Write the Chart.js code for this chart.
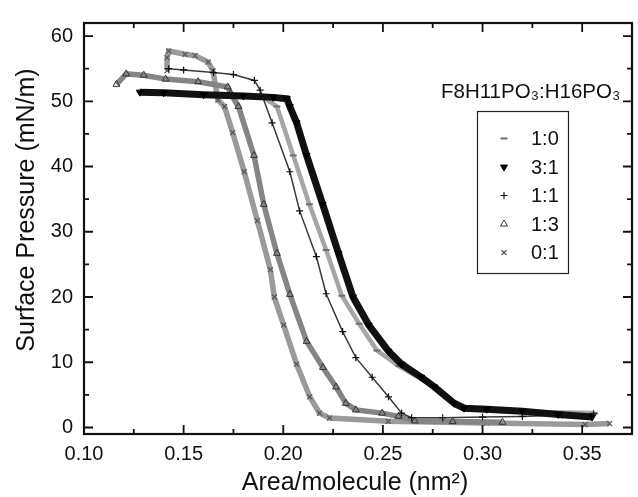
<!DOCTYPE html>
<html><head><meta charset="utf-8">
<script src="https://cdn.jsdelivr.net/npm/chart.js@4.4.1/dist/chart.umd.min.js"></script>
<style>html,body{margin:0;padding:0;background:#fff;overflow:hidden}canvas{display:block}</style>
</head><body>
<canvas id="c" width="638" height="497"></canvas>
<script>
// ---------- data ----------
const legendTitle = 'F8H11PO\u2083:H16PO\u2083';
const seriesLabels = ['1:0', '3:1', '1:1', '1:3', '0:1'];
const xTickValues = [0.10, 0.125, 0.15, 0.175, 0.20, 0.225, 0.25, 0.275, 0.30, 0.325, 0.35];
const yTickValues = [0, 5, 10, 15, 20, 25, 30, 35, 40, 45, 50, 55, 60];
const xTitle = 'Area/molecule (nm\u00B2)';
const yTitle = 'Surface Pressure (mN/m)';

const area_1_0 = [0.190, 0.1968, 0.2050, 0.2131, 0.2215, 0.2294, 0.2381, 0.2470, 0.2580, 0.2700, 0.2850, 0.2950, 0.3200, 0.3560];
const pi_1_0   = [50.6, 49.2, 41.7, 34.2, 27.2, 20.2, 15.9, 11.8, 9.4, 7.3, 4.0, 2.7, 2.4, 2.2];

const area_3_1 = [0.128, 0.140, 0.160, 0.180, 0.195, 0.2018, 0.2033, 0.2067, 0.2117, 0.2198, 0.2277, 0.2350, 0.2429, 0.2528, 0.2594, 0.2693, 0.2759, 0.2858, 0.2907, 0.3020, 0.3200, 0.3380, 0.3550];
const pi_3_1   = [51.4, 51.3, 51.0, 50.8, 50.6, 50.4, 49.2, 46.7, 41.7, 34.2, 26.7, 20.0, 15.7, 11.7, 9.7, 7.7, 6.2, 3.7, 2.95, 2.8, 2.5, 2.0, 1.6];

const area_1_1 = [0.1425, 0.150, 0.165, 0.175, 0.1855, 0.1884, 0.1944, 0.2033, 0.2082, 0.2166, 0.2215, 0.2298, 0.2364, 0.2446, 0.2528, 0.2594, 0.2644, 0.280, 0.300, 0.320, 0.340, 0.3558];
const pi_1_1   = [55.0, 54.8, 54.4, 54.1, 53.2, 51.7, 46.7, 39.2, 33.2, 26.2, 20.5, 14.7, 10.7, 7.7, 4.7, 2.2, 1.5, 1.5, 1.6, 1.7, 1.9, 2.1];

const area_1_3 = [0.1163, 0.1212, 0.130, 0.141, 0.1573, 0.1721, 0.1736, 0.1775, 0.1853, 0.1902, 0.1968, 0.2033, 0.2117, 0.2199, 0.2265, 0.2314, 0.2364, 0.2496, 0.2578, 0.2660, 0.2850, 0.3100];
const pi_1_3   = [52.6, 54.2, 54.0, 53.4, 53.0, 52.2, 51.2, 49.2, 41.7, 34.2, 26.7, 20.4, 13.2, 9.2, 6.2, 3.7, 2.7, 2.2, 1.7, 1.0, 0.9, 0.8];

const area_0_1 = [0.1417, 0.1417, 0.1425, 0.1507, 0.1557, 0.1623, 0.1647, 0.1672, 0.1705, 0.1746, 0.1804, 0.1870, 0.1935, 0.1955, 0.2002, 0.2067, 0.2133, 0.2182, 0.2232, 0.2527, 0.3021, 0.3515, 0.3638];
const pi_0_1   = [54.7, 56.7, 57.7, 57.2, 57.0, 56.0, 54.7, 50.2, 49.2, 45.2, 39.2, 31.7, 24.2, 20.0, 15.7, 9.7, 4.7, 2.2, 1.45, 0.95, 0.7, 0.45, 0.6];

// ---------- build ----------
const pts = (xs, ys) => xs.map((x, i) => ({x: x, y: ys[i]}));
const FONT = '"Liberation Sans", Arial, Helvetica, sans-serif';
const isMajorX = v => Math.abs(v / 0.05 - Math.round(v / 0.05)) < 1e-6;
const isMajorY = v => Math.abs(v / 10 - Math.round(v / 10)) < 1e-6;

const styles = [
  {line: '#a6a6a6', lw: 4.5, ps: 'line', pc: '#6e6e6e', pf: '#6e6e6e', r: 3.5, rot: 0, bw: 2, order: 2},
  {line: '#111111', lw: 7, ps: 'triangle', pc: '#000', pf: '#000', r: 4, rot: 180, bw: 1, order: 0},
  {line: '#3a3a3a', lw: 1.5, ps: 'cross', pc: '#111', pf: '#111', r: 3.5, rot: 0, bw: 1.2, order: 1},
  {line: '#858585', lw: 5.5, ps: 'triangle', pc: '#333', pf: 'rgba(255,255,255,0)', r: 4, rot: 0, bw: 1, order: 3},
  {line: '#9a9a9a', lw: 5.5, ps: 'crossRot', pc: '#555', pf: '#555', r: 3.5, rot: 0, bw: 1.2, order: 4}
];
const seriesData = [pts(area_1_0, pi_1_0), pts(area_3_1, pi_3_1), pts(area_1_1, pi_1_1), pts(area_1_3, pi_1_3), pts(area_0_1, pi_0_1)];

const datasets = seriesLabels.map((lab, i) => ({
  label: lab,
  data: seriesData[i],
  showLine: true,
  borderColor: styles[i].line,
  borderWidth: styles[i].lw,
  tension: 0,
  pointStyle: styles[i].ps,
  pointRadius: styles[i].r,
  pointRotation: styles[i].rot,
  pointBorderColor: styles[i].pc,
  pointBackgroundColor: styles[i].pf,
  pointBorderWidth: styles[i].bw,
  order: styles[i].order
}));

const framePlugin = {
  id: 'frame',
  afterDatasetsDraw(chart) {
    const {ctx, chartArea: a, scales: {x, y}} = chart;
    ctx.save();
    ctx.strokeStyle = '#111';
    ctx.lineWidth = 2.2;
    ctx.strokeRect(a.left, a.top, a.right - a.left, a.bottom - a.top);
    ctx.lineWidth = 1.8;
    ctx.beginPath();
    x.ticks.forEach(t => {
      const p = x.getPixelForValue(t.value);
      const L = isMajorX(t.value) ? 9 : 5;
      ctx.moveTo(p, a.bottom); ctx.lineTo(p, a.bottom - L);
      ctx.moveTo(p, a.top); ctx.lineTo(p, a.top + L);
    });
    y.ticks.forEach(t => {
      const p = y.getPixelForValue(t.value);
      const L = isMajorY(t.value) ? 9 : 5;
      ctx.moveTo(a.left, p); ctx.lineTo(a.left + L, p);
      ctx.moveTo(a.right, p); ctx.lineTo(a.right - L, p);
    });
    ctx.stroke();
    // axis titles
    ctx.fillStyle = '#111';
    ctx.font = '25px ' + FONT;
    ctx.textAlign = 'center';
    ctx.textBaseline = 'middle';
    ctx.fillText(xTitle, 355, 483.5);
    ctx.translate(27, 210);
    ctx.rotate(-Math.PI / 2);
    ctx.fillText(yTitle, 0, 0);
    ctx.restore();
  }
};

const legendPlugin = {
  id: 'boxLegend',
  afterDraw(chart) {
    const ctx = chart.ctx;
    ctx.save();
    ctx.fillStyle = '#111';
    ctx.font = '20.5px ' + FONT;
    ctx.textAlign = 'left';
    ctx.textBaseline = 'alphabetic';
    ctx.fillText(legendTitle, 441, 98);
    const bx = 477, by = 111, bw = 91, bh = 162;
    ctx.strokeStyle = '#222';
    ctx.lineWidth = 1.2;
    ctx.strokeRect(bx + 0.5, by + 0.5, bw, bh);
    ctx.font = '20px ' + FONT;
    chart.data.datasets.forEach((ds, i) => {
      const cy = by + 27.5 + i * 28.5;
      const st = styles[i];
      ctx.strokeStyle = st.pc;
      ctx.fillStyle = st.pf;
      ctx.lineWidth = st.bw;
      Chart.helpers.drawPoint(ctx, {pointStyle: st.ps, rotation: st.rot, radius: st.r, borderWidth: st.bw}, 504, cy);
      ctx.fillStyle = '#111';
      ctx.textBaseline = 'middle';
      ctx.fillText(ds.label, 531, cy + 1);
    });
    ctx.restore();
  }
};

new Chart(document.getElementById('c'), {
  type: 'scatter',
  data: {datasets: datasets},
  options: {
    responsive: false,
    animation: false,
    devicePixelRatio: 1,
    layout: {padding: {top: 15, right: -2, left: 0, bottom: 0}},
    plugins: {legend: {display: false}, tooltip: {enabled: false}},
    scales: {
      x: {
        type: 'linear', min: 0.10, max: 0.375,
        afterBuildTicks: s => { s.ticks = xTickValues.map(v => ({value: v})); },
        afterFit: s => { s.height = 63; },
        grid: {display: false, drawTicks: false},
        border: {display: false},
        ticks: {
          autoSkip: false, maxRotation: 0, padding: 8, color: '#111',
          font: {family: FONT, size: 20},
          callback: v => isMajorX(v) ? v.toFixed(2) : ''
        },
        title: {display: false, text: xTitle}
      },
      y: {
        type: 'linear', min: -1, max: 62,
        afterBuildTicks: s => { s.ticks = yTickValues.map(v => ({value: v})); },
        afterFit: s => { s.width = 84; },
        grid: {display: false, drawTicks: false},
        border: {display: false},
        ticks: {
          autoSkip: false, padding: 11, color: '#111',
          font: {family: FONT, size: 20},
          callback: v => isMajorY(v) ? String(v) : ''
        },
        title: {display: false, text: yTitle}
      }
    }
  },
  plugins: [framePlugin, legendPlugin]
});
</script>
</body></html>
